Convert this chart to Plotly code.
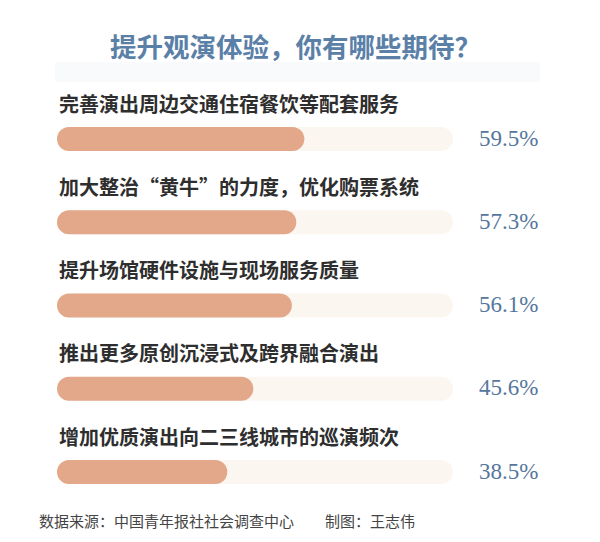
import plotly.graph_objects as go

title = "提升观演体验，你有哪些期待？"
categories = [
    "完善演出周边交通住宿餐饮等配套服务",
    "加大整治“黄牛”的力度，优化购票系统",
    "提升场馆硬件设施与现场服务质量",
    "推出更多原创沉浸式及跨界融合演出",
    "增加优质演出向二三线城市的巡演频次",
]
values = [59.5, 57.3, 56.1, 45.6, 38.5]
value_labels = ["59.5%", "57.3%", "56.1%", "45.6%", "38.5%"]
track_total = [100, 100, 100, 100, 100]
source = "数据来源：中国青年报社社会调查中心"
author = "制图：王志伟"

BAR = "#e3a88a"
TRACK = "#fcf6f1"
BLUE = "#56779d"
TITLE_BLUE = "#5b80a8"
LABEL = "#2e2e2e"
CJK = "Noto Sans CJK SC"

# page body has an 8px margin; size the figure so it fits the window
OFF = 8
W, H = 600 - OFF, 542 - OFF


def px(X):
    return (X - OFF) / W


def py(Y):
    return 1 - (Y - OFF) / H


base = -7.9  # left start of bars (style offset)
ids = list(range(len(categories)))

fig = go.Figure()
fig.add_trace(go.Bar(
    y=ids, x=[t - base for t in track_total], base=base, orientation="h",
    width=0.29, marker=dict(color=TRACK, line=dict(width=0), cornerradius=12),
    hoverinfo="skip", showlegend=False,
))
fig.add_trace(go.Bar(
    y=ids, x=[v - base for v in values], base=base, orientation="h",
    width=0.29, marker=dict(color=BAR, line=dict(width=0), cornerradius=12),
    hoverinfo="skip", showlegend=False,
))

annotations = []
for i, (cat, lab) in enumerate(zip(categories, value_labels)):
    annotations.append(dict(
        x=px(57), xref="paper", y=i, yref="y", yshift=36,
        text=f"<b>{cat}</b>", showarrow=False, xanchor="left", yanchor="middle",
        font=dict(family=CJK, size=20, color=LABEL),
    ))
    annotations.append(dict(
        x=px(477), xref="paper", y=i, yref="y", yshift=1,
        text=lab, showarrow=False, xanchor="left", yanchor="middle",
        font=dict(family="Liberation Serif", size=23, color=BLUE),
    ))

annotations.append(dict(
    x=px(295), xref="paper", y=py(46), yref="paper", text=f"<b>{title}</b>",
    showarrow=False, xanchor="center", yanchor="middle",
    font=dict(family=CJK, size=26.5, color=TITLE_BLUE),
))
annotations.append(dict(
    x=px(37), xref="paper", y=py(520), yref="paper", text=source,
    showarrow=False, xanchor="left", yanchor="middle",
    font=dict(family=CJK, size=15, color="#444444"),
))
annotations.append(dict(
    x=px(323), xref="paper", y=py(520), yref="paper", text=author,
    showarrow=False, xanchor="left", yanchor="middle",
    font=dict(family=CJK, size=15, color="#444444"),
))

# axis ranges: value 0 at x=86px, 100 at x=453px; rows at y=139..472px
k = 3.67
xr = [(0 - (86 - OFF)) / k, (W - (86 - OFF)) / k]
s = 83.25
yr = [(H - (139 - OFF)) / s, (0 - (139 - OFF)) / s]

fig.update_layout(
    width=W, height=H,
    margin=dict(l=0, r=0, t=0, b=0),
    paper_bgcolor="white", plot_bgcolor="white",
    barmode="overlay",
    xaxis=dict(range=xr, visible=False, fixedrange=True),
    yaxis=dict(range=yr, visible=False, fixedrange=True),
    annotations=annotations,
    shapes=[dict(type="rect", xref="paper", yref="paper",
                 x0=px(55), x1=px(540), y0=py(82), y1=py(62),
                 fillcolor="#f8fafb", line=dict(width=0), layer="below")],
)

fig.write_html("out.html")
